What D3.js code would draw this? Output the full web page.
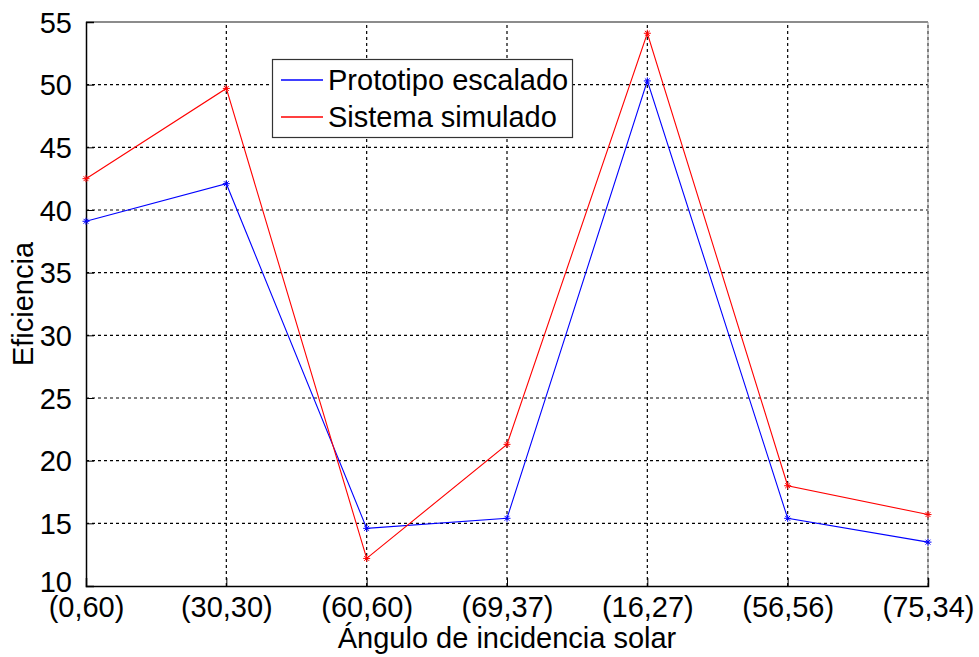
<!DOCTYPE html>
<html>
<head>
<meta charset="utf-8">
<script src="https://cdn.jsdelivr.net/npm/d3@7"></script>
<style>
  html, body { margin: 0; padding: 0; background: #fff; }
  svg { display: block; }
  text { font-family: "Liberation Sans", Arial, sans-serif; fill: #000; }
</style>
</head>
<body>
<svg id="chart" width="979" height="657"></svg>
<script>
// Incidence-angle categories (x axis)
const categories = ["(0,60)", "(30,30)", "(60,60)", "(69,37)", "(16,27)", "(56,56)", "(75,34)"];
// Efficiency of the scaled prototype
const prototipo = [39.1, 42.1, 14.6, 15.4, 50.3, 15.4, 13.5];
// Efficiency of the simulated system
const simulado = [42.5, 49.7, 12.2, 21.3, 54.1, 18.0, 15.7];
// Y axis ticks
const yTicks = [10, 15, 20, 25, 30, 35, 40, 45, 50, 55];

const seriesList = [
  { name: "Prototipo escalado", values: prototipo, color: "#0000ff" },
  { name: "Sistema simulado", values: simulado, color: "#ff0000" }
];

const W = 979, H = 657;
const m = { left: 86, right: 51, top: 22, bottom: 71 };
const svg = d3.select("#chart");
const FS = 29;

const x = d3.scalePoint().domain(categories).range([m.left, W - m.right]);
const y = d3.scaleLinear().domain([10, 55]).range([H - m.bottom, m.top]);

const x0 = m.left, x1 = W - m.right, y0 = H - m.bottom, y1 = m.top;

// Dashed grid
const grid = svg.append("g");
grid.selectAll("line.v").data(categories.slice(1)).join("line")
  .attr("x1", d => x(d)).attr("x2", d => x(d))
  .attr("y1", y0).attr("y2", y1)
  .attr("stroke", "#000").attr("stroke-width", 1.2).attr("stroke-dasharray", "3,3");
grid.selectAll("line.h").data(yTicks.slice(1, -1)).join("line")
  .attr("x1", x0).attr("x2", x1)
  .attr("y1", d => y(d)).attr("y2", d => y(d))
  .attr("stroke", "#000").attr("stroke-width", 1.2).attr("stroke-dasharray", "3,3");

// Box: top/right in gray, left/bottom black
svg.append("line").attr("x1", x0).attr("x2", x1).attr("y1", y1).attr("y2", y1)
  .attr("stroke", "#666").attr("stroke-width", 1.5);
svg.append("line").attr("x1", x1).attr("x2", x1).attr("y1", y1).attr("y2", y0)
  .attr("stroke", "#999").attr("stroke-width", 1);

// Axes with inward ticks
const yAxis = d3.axisLeft(y).tickValues(yTicks).tickSize(-8).tickPadding(14).tickFormat(d3.format("d"));
const gy = svg.append("g").attr("transform", `translate(${x0},0)`).call(yAxis);
gy.select(".domain").attr("stroke", "#000").attr("stroke-width", 1.5);
gy.selectAll(".tick line").attr("stroke", "#000");
gy.selectAll("text").style("font-size", FS + "px")
  .attr("dy", d => d === 10 ? "0.2em" : "0.35em")
  .attr("font-family", "Liberation Sans, Arial, sans-serif");

const xAxis = d3.axisBottom(x).tickSize(-8).tickPadding(14);
const gx = svg.append("g").attr("transform", `translate(0,${y0})`).call(xAxis);
gx.select(".domain").attr("stroke", "#000").attr("stroke-width", 1.5);
gx.selectAll(".tick line").attr("stroke", "#000");
gx.selectAll("text").style("font-size", FS + "px").attr("dy", "0.6em")
  .attr("font-family", "Liberation Sans, Arial, sans-serif");

// Axis titles
svg.append("text").attr("x", (x0 + x1) / 2).attr("y", 648)
  .attr("text-anchor", "middle").style("font-size", FS + "px")
  .text("Ángulo de incidencia solar");
svg.append("text").attr("transform", `translate(33,${(y0 + y1) / 2}) rotate(-90)`)
  .attr("text-anchor", "middle").style("font-size", FS + "px")
  .text("Eficiencia");

// Series lines and asterisk markers
const line = d3.line().x((d, i) => x(categories[i])).y(d => y(d));
const star = (s) => `M${-s},0H${s}M0,${-s}V${s}M${-s*0.7},${-s*0.7}L${s*0.7},${s*0.7}M${-s*0.7},${s*0.7}L${s*0.7},${-s*0.7}`;
seriesList.forEach(s => {
  svg.append("path").datum(s.values).attr("d", line)
    .attr("fill", "none").attr("stroke", s.color).attr("stroke-width", 1.1);
  svg.append("g").selectAll("path").data(s.values).join("path")
    .attr("transform", (d, i) => `translate(${x(categories[i])},${y(d)})`)
    .attr("d", star(3.5)).attr("fill", "none")
    .attr("stroke", s.color).attr("stroke-width", 1);
});

// Legend
const lg = svg.append("g");
lg.append("rect").attr("x", 272.5).attr("y", 59.5).attr("width", 300).attr("height", 78)
  .attr("fill", "#fff").attr("stroke", "#333").attr("stroke-width", 1.2);
seriesList.forEach((s, i) => {
  const ly = 80 + i * 37;
  lg.append("line").attr("x1", 281).attr("x2", 323).attr("y1", ly).attr("y2", ly)
    .attr("stroke", s.color).attr("stroke-width", 1.5);
  lg.append("text").attr("x", 328).attr("y", ly).attr("dy", "0.35em")
    .style("font-size", FS + "px").text(s.name);
});
</script>
</body>
</html>
